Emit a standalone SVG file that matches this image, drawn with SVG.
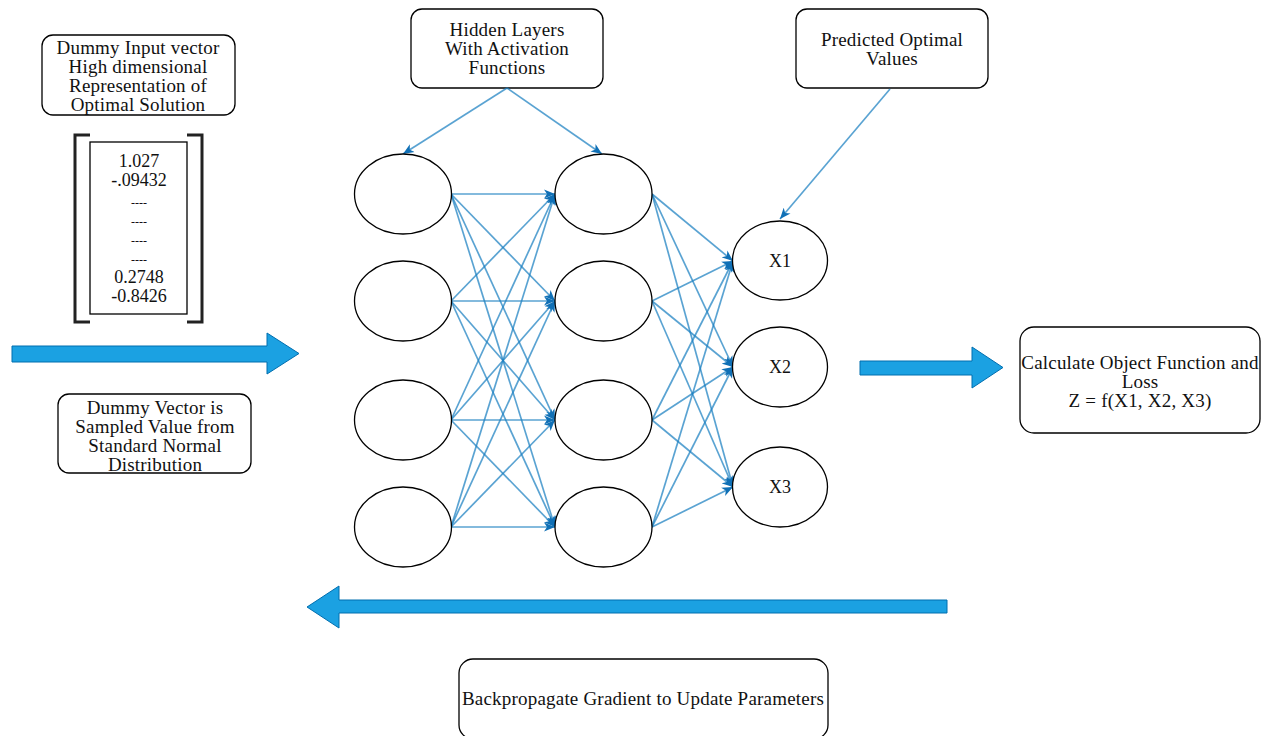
<svg xmlns="http://www.w3.org/2000/svg" width="1264" height="736" viewBox="0 0 1264 736">
<style>
.box{fill:#fff;stroke:#000;stroke-width:1.3}
.node{fill:#fff;stroke:#000;stroke-width:1.3}
.t{font-family:"Liberation Serif","Times New Roman",serif;font-size:19px;letter-spacing:0.2px;fill:#111;text-anchor:middle}
.v{font-family:"Liberation Serif","Times New Roman",serif;font-size:18px;fill:#111;text-anchor:middle}
.d{font-family:"Liberation Serif","Times New Roman",serif;font-size:12px;fill:#111;text-anchor:middle}
.edge{stroke:#1b7fc0;stroke-opacity:0.72;stroke-width:1.7;fill:none;marker-end:url(#ah)}
.big{fill:#1ba1e2;stroke:#006eaf;stroke-width:1}
.br{fill:none;stroke:#222;stroke-width:3}
</style>
<defs>
<marker id="ah" markerUnits="userSpaceOnUse" markerWidth="12" markerHeight="10" refX="11" refY="5" orient="auto">
<path d="M0,0.5 L11,5 L0,9.5 L3,5 Z" fill="#1070b6"/>
</marker>
</defs>
<rect width="1264" height="736" fill="#fff"/>

<g id="input-label">
<rect class="box" x="42" y="35" width="193" height="80" rx="11"/>
<text class="t" x="138" y="54">Dummy Input vector</text>
<text class="t" x="138" y="73">High dimensional</text>
<text class="t" x="138" y="92">Representation of</text>
<text class="t" x="138" y="111">Optimal Solution</text>
</g>

<g id="input-vector">
<path class="br" d="M90,135 H75 V322 H90"/>
<path class="br" d="M187,135 H202 V322 H187"/>
<rect x="90" y="142" width="97" height="172" fill="#fff" stroke="#000" stroke-width="1.3"/>
<text class="v" x="139" y="167">1.027</text>
<text class="v" x="139" y="186">-.09432</text>
<text class="d" x="139" y="207">----</text>
<text class="d" x="139" y="226">----</text>
<text class="d" x="139" y="245">----</text>
<text class="d" x="139" y="264">----</text>
<text class="v" x="139" y="283">0.2748</text>
<text class="v" x="139" y="302">-0.8426</text>
</g>

<g id="input-arrow">
<path class="big" d="M12,346 H267 V333 L299,353.5 L267,374 V362 H12 Z"/>
</g>

<g id="sample-label">
<rect class="box" x="58" y="394" width="193" height="79" rx="11"/>
<text class="t" x="155" y="414">Dummy Vector is</text>
<text class="t" x="155" y="433">Sampled Value from</text>
<text class="t" x="155" y="452">Standard Normal</text>
<text class="t" x="155" y="471">Distribution</text>
</g>

<g id="hidden-label">
<rect class="box" x="411" y="9" width="192" height="79" rx="11"/>
<text class="t" x="507" y="36">Hidden Layers</text>
<text class="t" x="507" y="55">With Activation</text>
<text class="t" x="507" y="74">Functions</text>
</g>

<g id="predicted-label">
<rect class="box" x="796" y="9" width="192" height="79" rx="11"/>
<text class="t" x="892" y="46">Predicted Optimal</text>
<text class="t" x="892" y="65">Values</text>
</g>

<g id="connectors">
<line class="edge" x1="507" y1="88" x2="403" y2="154"/>
<line class="edge" x1="507" y1="88" x2="602" y2="154"/>
<line class="edge" x1="890" y1="89" x2="780" y2="219"/>
<line class="edge" x1="451" y1="194" x2="555" y2="194"/>
<line class="edge" x1="451" y1="194" x2="555" y2="301"/>
<line class="edge" x1="451" y1="194" x2="555" y2="420"/>
<line class="edge" x1="451" y1="194" x2="555" y2="527"/>
<line class="edge" x1="451" y1="301" x2="555" y2="194"/>
<line class="edge" x1="451" y1="301" x2="555" y2="301"/>
<line class="edge" x1="451" y1="301" x2="555" y2="420"/>
<line class="edge" x1="451" y1="301" x2="555" y2="527"/>
<line class="edge" x1="451" y1="420" x2="555" y2="194"/>
<line class="edge" x1="451" y1="420" x2="555" y2="301"/>
<line class="edge" x1="451" y1="420" x2="555" y2="420"/>
<line class="edge" x1="451" y1="420" x2="555" y2="527"/>
<line class="edge" x1="451" y1="527" x2="555" y2="194"/>
<line class="edge" x1="451" y1="527" x2="555" y2="301"/>
<line class="edge" x1="451" y1="527" x2="555" y2="420"/>
<line class="edge" x1="451" y1="527" x2="555" y2="527"/>
<line class="edge" x1="652" y1="194" x2="733" y2="261"/>
<line class="edge" x1="652" y1="194" x2="733" y2="367"/>
<line class="edge" x1="652" y1="194" x2="733" y2="487"/>
<line class="edge" x1="652" y1="301" x2="733" y2="261"/>
<line class="edge" x1="652" y1="301" x2="733" y2="367"/>
<line class="edge" x1="652" y1="301" x2="733" y2="487"/>
<line class="edge" x1="652" y1="420" x2="733" y2="261"/>
<line class="edge" x1="652" y1="420" x2="733" y2="367"/>
<line class="edge" x1="652" y1="420" x2="733" y2="487"/>
<line class="edge" x1="652" y1="527" x2="733" y2="261"/>
<line class="edge" x1="652" y1="527" x2="733" y2="367"/>
<line class="edge" x1="652" y1="527" x2="733" y2="487"/>
</g>

<g id="layer1">
<ellipse class="node" cx="403" cy="194" rx="48.5" ry="40"/>
<ellipse class="node" cx="403" cy="301" rx="48.5" ry="40"/>
<ellipse class="node" cx="403" cy="420" rx="48.5" ry="40"/>
<ellipse class="node" cx="403" cy="527" rx="48.5" ry="40"/>
</g>

<g id="layer2">
<ellipse class="node" cx="603.5" cy="194" rx="48.5" ry="40"/>
<ellipse class="node" cx="603.5" cy="301" rx="48.5" ry="40"/>
<ellipse class="node" cx="603.5" cy="420" rx="48.5" ry="40"/>
<ellipse class="node" cx="603.5" cy="527" rx="48.5" ry="40"/>
</g>

<g id="output-x1">
<ellipse class="node" cx="780" cy="260.5" rx="47.5" ry="39.5"/>
<text class="v" x="780" y="267">X1</text>
</g>
<g id="output-x2">
<ellipse class="node" cx="780" cy="367" rx="47.5" ry="40"/>
<text class="v" x="780" y="373">X2</text>
</g>
<g id="output-x3">
<ellipse class="node" cx="780" cy="487" rx="47.5" ry="40"/>
<text class="v" x="780" y="493">X3</text>
</g>

<g id="output-arrow">
<path class="big" d="M860,361 H972 V347 L1003,367.5 L972,388 V375 H860 Z"/>
</g>

<g id="loss-label">
<rect class="box" x="1020" y="327" width="240" height="106" rx="14"/>
<text class="t" x="1140" y="369">Calculate Object Function and</text>
<text class="t" x="1140" y="388">Loss</text>
<text class="t" x="1140" y="407">Z = f(X1, X2, X3)</text>
</g>

<g id="back-arrow">
<path class="big" d="M947,600 H339 V586 L307,607 L339,628 V613 H947 Z"/>
</g>

<g id="backprop-label">
<rect class="box" x="459" y="659" width="369" height="80" rx="14"/>
<text class="t" x="643" y="705">Backpropagate Gradient to Update Parameters</text>
</g>
</svg>
